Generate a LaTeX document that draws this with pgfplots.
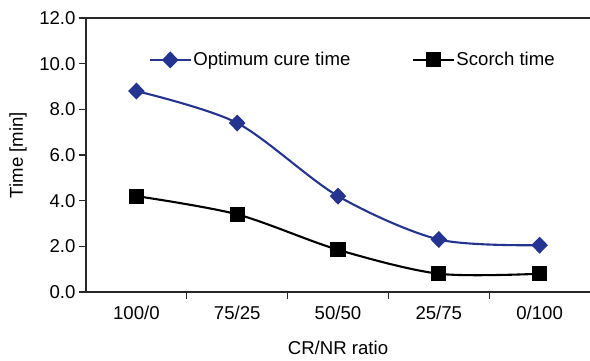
\documentclass[border=0pt]{standalone}
\usepackage{fontspec}
\setmainfont{Liberation Sans}
\usepackage{pgfplots}
\pgfplotsset{compat=1.18}
\definecolor{cureblue}{RGB}{38,52,145}
\definecolor{axisgray}{RGB}{40,40,40}

\begin{document}
\begin{tikzpicture}
\begin{axis}[
  at={(0,0)}, anchor=south west,
  scale only axis, width=504bp, height=274bp,
  font=\fontsize{18.6bp}{22bp}\selectfont,
  xmin=-0.5, xmax=4.5, ymin=0, ymax=12,
  axis lines*=left,
  axis line style={line width=1.2bp, axisgray},
  tick style={line width=1.2bp, axisgray},
  tick align=outside,
  major tick length=7bp,
  minor tick length=7bp,
  xtick={0,1,2,3,4},
  xticklabels={100/0,75/25,50/50,25/75,0/100},
  x tick style={draw=none},
  minor xtick={0.5,1.5,2.5,3.5},
  minor x tick style={draw=axisgray, line width=1.2bp},
  xticklabel style={yshift=-4bp},
  ytick={0,2,4,6,8,10,12},
  yticklabel style={/pgf/number format/fixed, /pgf/number format/fixed zerofill, /pgf/number format/precision=1},
  /pgf/number format/assume math mode=true,
  ylabel={Time [min]},
  ylabel style={at={(axis description cs:-0.135,0.5)}, anchor=center},
  xlabel={CR/NR ratio},
  xlabel style={at={(axis description cs:0.5,-0.204)}, anchor=center},
  legend columns=2,
  legend style={at={(axis description cs:0.125,0.847)}, anchor=west, draw=none, fill=none,
    font=\fontsize{18.6bp}{22bp}\selectfont,
    /tikz/every even column/.style={column sep=60bp},
    inner sep=0pt},
  legend cell align=left,
  legend image code/.code={\draw[mark repeat=2, mark phase=2] plot coordinates {(0bp,0bp) (20bp,0bp) (40bp,0bp)};},
]
% optimum cure time
\addplot[cureblue, line width=2.1bp, smooth, tension=0.5, mark=diamond*, mark size=7bp,
  mark options={solid, fill=cureblue, xscale=1.3}]
  coordinates {(0,8.8) (1,7.4) (2,4.2) (3,2.3) (4,2.05)};
\addlegendentry{Optimum cure time}
% scorch time
\addplot[black, line width=2.1bp, smooth, tension=0.5, mark=square*, mark size=6.5bp,
  mark options={solid, fill=black}]
  coordinates {(0,4.2) (1,3.4) (2,1.85) (3,0.8) (4,0.8)};
\addlegendentry{Scorch time}
\draw[line width=1.2bp, axisgray] (rel axis cs:0,1) -- (rel axis cs:1,1);
\end{axis}
\pgfresetboundingbox
\path[use as bounding box] (-86bp,-69bp) rectangle (504bp,292bp);
\end{tikzpicture}
\end{document}
